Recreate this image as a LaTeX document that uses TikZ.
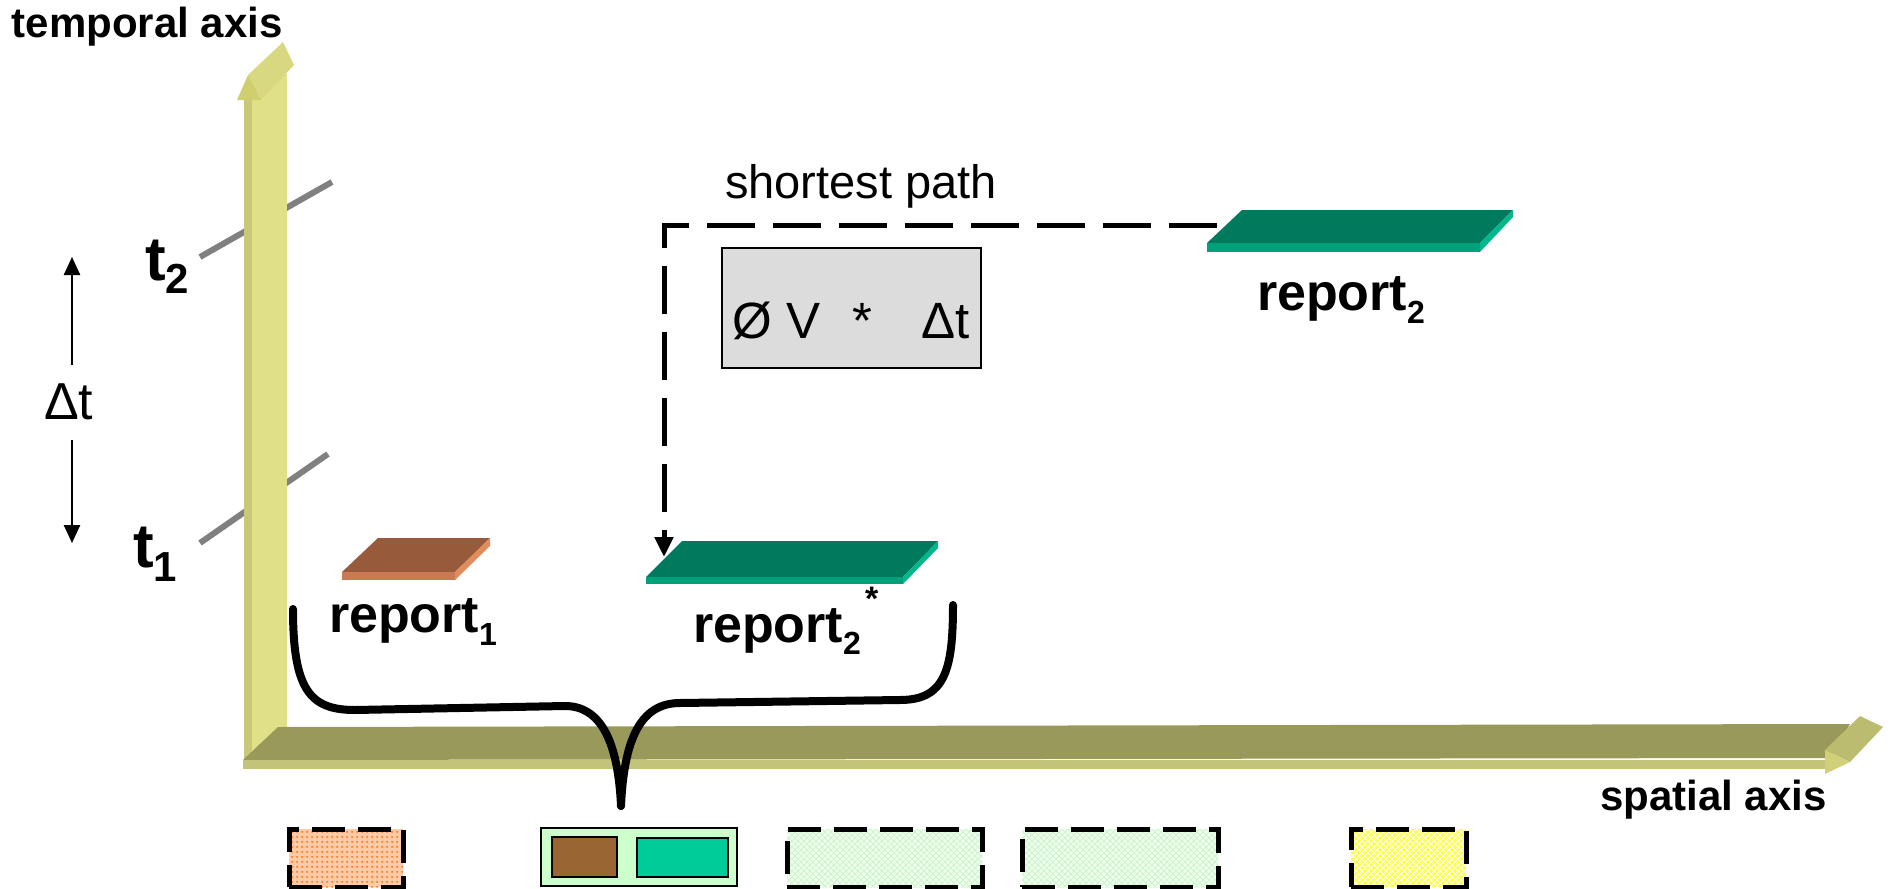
\documentclass[tikz,border=0pt]{standalone}
\usepackage{fontspec}
\setmainfont{Liberation Sans}
\usetikzlibrary{arrows.meta,patterns.meta}
\definecolor{vaxis}{HTML}{E0E088}
\definecolor{vaxisdark}{HTML}{C8C878}
\definecolor{vhead}{HTML}{D8D880}
\definecolor{vheadfront}{HTML}{CFCF70}
\definecolor{haxis}{HTML}{999959}
\definecolor{haxisfront}{HTML}{C3C37A}
\definecolor{hhead}{HTML}{BCBC70}
\definecolor{hheadfront}{HTML}{D0D078}
\definecolor{tickgray}{HTML}{808080}
\definecolor{rAtop}{HTML}{975A3A}
\definecolor{rAfront}{HTML}{C97A52}
\definecolor{rAside}{HTML}{E08C5C}
\definecolor{rBtop}{HTML}{007A5C}
\definecolor{rBfront}{HTML}{00A07A}
\definecolor{rBside}{HTML}{00B88C}
\definecolor{boxgray}{HTML}{DCDCDC}
\definecolor{mintbox}{HTML}{CCFFCC}
\definecolor{brownbox}{HTML}{996633}
\definecolor{tealbox}{HTML}{00CC99}
\definecolor{orangefill}{HTML}{FDCBA8}
\definecolor{orangedot}{HTML}{FF7A1A}
\definecolor{palegreen}{HTML}{F0FDF0}
\definecolor{greenhatch}{HTML}{CCF5CC}
\definecolor{yellowfill}{HTML}{FFFF40}
\newcommand\fsz[1]{\fontsize{#1}{#1}\selectfont}
\tikzdeclarepattern{
  name=odots, type=uncolored,
  bounding box={(0pt,0pt) and (5pt,5pt)},
  tile size={(5pt,5pt)},
  code={\fill (2.5pt,2.5pt) circle (1.3pt);}
}
\tikzdeclarepattern{
  name=xhatch, type=uncolored,
  bounding box={(-0.5pt,-0.5pt) and (6.5pt,6.5pt)},
  tile size={(6pt,6pt)},
  code={\draw[line width=1pt] (0pt,0pt) -- (6pt,6pt) (0pt,6pt) -- (6pt,0pt);}
}
\tikzset{
  lbl/.style={inner sep=0pt, outer sep=0pt},
  tickline/.style={draw=tickgray, line width=6pt},
  dimarrow/.style={line width=2.5pt, -{Triangle[width=16pt,length=18pt]}},
  pathline/.style={line width=5pt, dash pattern=on 48pt off 18pt, -{Triangle[width=18pt,length=20pt]}},
  brace/.style={line width=8pt, line cap=round, line join=round},
  dashbox/.style={draw=black, line width=4.5pt, dash pattern=on 33pt off 13pt, inner sep=0pt, minimum height=58pt},
  solidbox/.style={draw=black, line width=2pt, inner sep=0pt}
}
\begin{document}
\begin{tikzpicture}[x=1pt,y=-1pt]
\useasboundingbox (0,0) rectangle (1891,889);

% tick lines behind the temporal axis
\coordinate (t2a) at (200,257);
\coordinate (t2b) at (332,182);
\coordinate (t1a) at (200,543);
\coordinate (t1b) at (328,454);
\draw[tickline] (t2a) -- (t2b);
\draw[tickline] (t1a) -- (t1b);

% temporal axis (vertical 3D arrow)
\fill[vaxis] (252,74) rectangle (287,760);
\fill[vaxisdark] (244,100) rectangle (252,769);
\fill[vhead] (248,75) -- (283,42) -- (294,65) -- (261,100) -- cycle;
\fill[vheadfront] (237,100) -- (248,75) -- (261,100) -- cycle;

% spatial axis (horizontal 3D arrow)
\fill[haxis] (243,760) -- (278,727) -- (1850,724) -- (1830,758) -- cycle;
\fill[haxisfront] (243,760) rectangle (1830,769);
\fill[hhead] (1825,750) -- (1860,716) -- (1883,727) -- (1850,762) -- cycle;
\fill[hheadfront] (1825,750) -- (1850,762) -- (1825,774) -- cycle;

% axis labels
\node[lbl, anchor=base west] (tempLbl) at (12,37) {\fsz{42}\bfseries temporal axis};
\node[lbl, anchor=base west] (spatLbl) at (1600,810) {\fsz{42}\bfseries spatial axis};

% time labels
\node[lbl, anchor=base west] (t2Lbl) at (145,280) {\fsz{62}\bfseries t\raisebox{-13pt}{\fsz{42}2}};
\node[lbl, anchor=base west] (t1Lbl) at (133,567) {\fsz{62}\bfseries t\raisebox{-14pt}{\fsz{42}1}};
\node[lbl, anchor=base west] (dtLbl) at (44,419) {\fsz{52}Δt};
\coordinate (dtUpTop) at (72,257);
\coordinate (dtDownBot) at (72,543);
\draw[dimarrow] (dtLbl.north -| dtUpTop) ++(0,-18) -- (dtUpTop);
\draw[dimarrow] (dtLbl.south -| dtDownBot) ++(0,21) -- (dtDownBot);

% report1 plate
\fill[rAtop] (342,572) -- (378,538) -- (490,538) -- (455,572) -- cycle;
\fill[rAfront] (342,572) rectangle (455,580);
\fill[rAside] (455,572) -- (490,538) -- (490,546) -- (455,580) -- cycle;
\node[lbl, anchor=base west] (rep1) at (329,632) {\fsz{52}\bfseries report\raisebox{-13pt}{\fsz{32}1}};

% report2* plate
\fill[rBtop] (646,577) -- (682,541) -- (938,541) -- (903,577) -- cycle;
\fill[rBfront] (646,577) rectangle (903,584);
\fill[rBside] (903,577) -- (938,541) -- (938,548) -- (903,584) -- cycle;
\node[lbl, anchor=base west] (rep2s) at (693,642) {\fsz{52}\bfseries report\raisebox{-12pt}{\fsz{32}2}\hspace{4pt}\raisebox{32pt}{\fsz{34}*}};

% report2 plate
\fill[rBtop] (1207,243) -- (1242,210) -- (1513,210) -- (1480,243) -- cycle;
\fill[rBfront] (1207,243) rectangle (1480,252);
\fill[rBside] (1480,243) -- (1513,210) -- (1513,217) -- (1480,252) -- cycle;
\node[lbl, anchor=base west] (rep2) at (1257,310) {\fsz{52}\bfseries report\raisebox{-13pt}{\fsz{32}2}};

% shortest path
\node[lbl, anchor=base west] (spLbl) at (725,198) {\fsz{47}shortest path};
\coordinate (r2w) at (1217,225);
\coordinate (spCorner) at (664,225);
\coordinate (r2sTip) at (664,557);
\draw[pathline] (r2w) -- (spCorner) -- (r2sTip);

\node[draw=black, fill=boxgray, line width=1.5pt, inner sep=0pt, minimum width=259pt,
      text height=91pt, text depth=29pt, anchor=north west] (formula) at (721,247)
      {\fsz{51}Ø V\hspace{32pt}*\hspace{49pt}Δt};

% brace
\coordinate (brL) at (293,609);
\coordinate (cusp) at (621,806);
\coordinate (brR) at (953,605);
\draw[brace] (brL) .. controls (293,690) and (310,710) .. (355,710) -- (565,706)
  .. controls (600,706) and (618,740) .. (cusp);
\draw[brace] (cusp) .. controls (624,740) and (640,703) .. (680,703) -- (900,700)
  .. controls (945,700) and (953,670) .. (brR);

% bottom boxes
\node[dashbox, minimum width=114pt, anchor=north west, preaction={fill=orangefill},
      pattern={odots}, pattern color=orangedot] (slot1) at (287,827) {};
\node[solidbox, fill=mintbox, minimum width=196pt, minimum height=58pt, anchor=north west] (slot2) at (540,827) {};
\node[solidbox, fill=brownbox, minimum width=65pt, minimum height=40pt, anchor=north west] (slot2a) at (551,836) {};
\node[solidbox, fill=tealbox, minimum width=91pt, minimum height=39pt, anchor=north west] (slot2b) at (636,837) {};
\node[dashbox, minimum width=195pt, anchor=north west, preaction={fill=palegreen},
      pattern={xhatch}, pattern color=greenhatch] (slot3) at (785,827) {};
\node[dashbox, minimum width=196pt, anchor=north west, preaction={fill=palegreen},
      pattern={xhatch}, pattern color=greenhatch] (slot4) at (1020,827) {};
\node[dashbox, minimum width=115pt, anchor=north west, preaction={fill=yellowfill},
      pattern={xhatch}, pattern color=white] (slot5) at (1349,827) {};
\end{tikzpicture}
\end{document}
